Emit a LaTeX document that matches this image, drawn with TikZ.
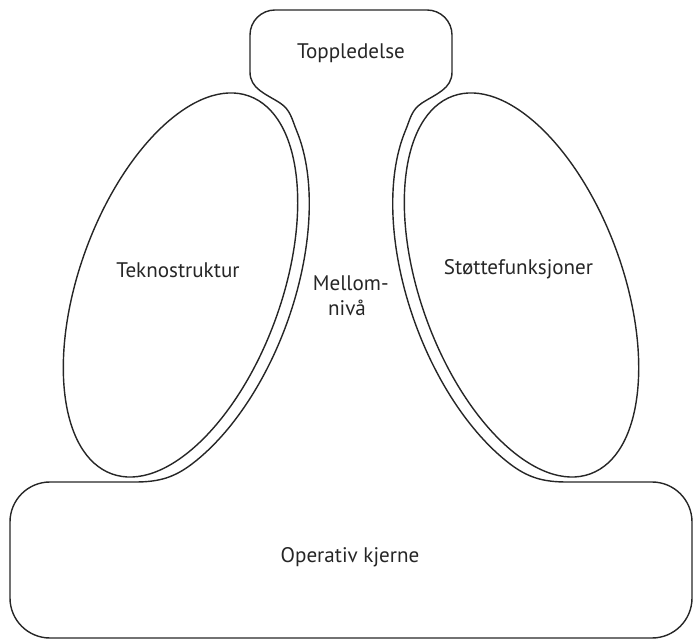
\documentclass[tikz,border=0pt]{standalone}
\usepackage{fontspec}
\setmainfont{PT Sans}
\usepackage{tikz}

\tikzset{
  outline/.style={draw=black!85,line width=1pt},
  lbl/.style={font=\fontsize{15}{18}\selectfont,text=black!85,inner sep=0pt}
}

\begin{document}
\begin{tikzpicture}[line cap=round,line join=round,x=0.025cm,y=0.025cm]
\useasboundingbox (0,0) rectangle (694,642);
\coordinate (cl) at (180.5,357);
\coordinate (cr) at (521.5,357);
% inner ellipses
\draw[outline,rotate around={-20:(cl)}] (cl) ellipse [x radius=101,y radius=201];
\draw[outline,rotate around={20:(cr)}] (cr) ellipse [x radius=101,y radius=201];
% top, neck, middle line and operating core as one outline
\draw[outline] (135,160) -- (50,160) arc[start angle=90,end angle=180,radius=40]
  -- (10,44) arc[start angle=180,end angle=270,radius=40]
  -- (652,4) arc[start angle=270,end angle=360,radius=40]
  -- (692,120) arc[start angle=0,end angle=90,radius=40]
  -- (567,160) to[out=180,in=-37.7] (509,178.8)
  -- plot[domain=-50:60,samples=60,variable=\t]
     ({521.5-113*cos(\t)*0.940-213*sin(\t)*0.342},{357-113*cos(\t)*0.342+213*sin(\t)*0.940})
  to[out=67.4,in=-147] (422,539) to[out=33,in=-90] (452,570)
  -- (452,607) arc[start angle=0,end angle=90,radius=25]
  -- (275,632) arc[start angle=90,end angle=180,radius=25]
  -- (250,570) to[out=-90,in=147] (280,539) to[out=-33,in=112.6] (296.7,511.1)
  -- plot[domain=60:-50,samples=60,variable=\t]
     ({180.5+113*cos(\t)*0.940+213*sin(\t)*0.342},{357-113*cos(\t)*0.342+213*sin(\t)*0.940})
  to[out=217.7,in=0] (135,160) -- cycle;
% labels
\node[lbl] (top) at (351,589) {Toppledelse};
\node[lbl] (tekno) at (178,372) {Teknostruktur};
\node[lbl] (stotte) at (518.5,373) {Støttefunksjoner};
\node[lbl,align=center] (mellom) at (347,346) {Mellom\rlap{-}\\nivå};
\node[lbl] (kjerne) at (350,85) {Operativ kjerne};
\end{tikzpicture}
\end{document}
